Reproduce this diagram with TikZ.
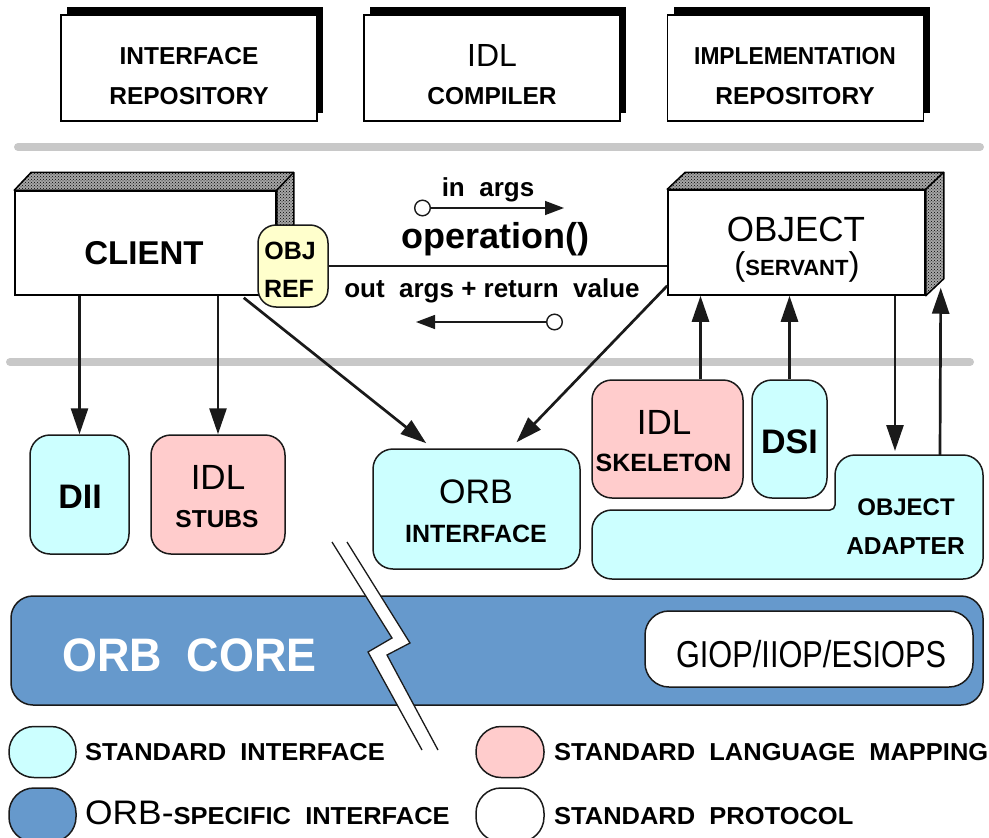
\documentclass[tikz,border=0pt]{standalone}
\usepackage{graphicx}
\usepackage{fontspec}
\setmainfont{Liberation Sans}
\usetikzlibrary{arrows.meta,patterns,shadows,calc}
\definecolor{stdcyan}{HTML}{CCFFFF}
\definecolor{stdpink}{HTML}{FFCCCC}
\definecolor{orbblue}{HTML}{6699CC}
\definecolor{refyellow}{HTML}{FFFFCC}
\definecolor{sepgray}{HTML}{C8C8C8}
\definecolor{edgegray}{HTML}{1A1A1A}
\newcommand{\SetFz}[1]{\fontsize{#1pt}{#1pt}\selectfont}
\newcommand{\LgWide}[1]{\scalebox{1.04}[1]{#1}}
\begin{document}
\begin{tikzpicture}[x=1pt,y=-1pt,
  topbox/.style={draw=black, line width=1.3pt, fill=white, minimum width=256pt, minimum height=106pt, inner sep=0pt,
     general shadow={fill=black, shadow xshift=6pt, shadow yshift=8pt}},
  frontbox/.style={draw=black, line width=1.5pt, fill=white, inner sep=0pt},
  face/.style={fill=black!35, draw=black, line width=1.5pt, line join=round, postaction={pattern=crosshatch dots, pattern color=black}},
  card/.style={draw=edgegray, line width=1.5pt, rounded corners=20pt, inner sep=0pt},
  txt/.style={inner sep=0pt, anchor=base},
  arr/.style={line width=2.7pt, edgegray, -{Triangle[length=26pt,width=17pt]}},
  sarr/.style={line width=1.4pt, edgegray, {Circle[length=17pt,fill=white]}-{Triangle[length=19pt,width=14pt]}},
  sep/.style={line width=8pt, line cap=round, sepgray},
]
\useasboundingbox (0,0) rectangle (989,838);
\clip (0,0) rectangle (989,838);

% separators
\draw[sep] (18,147) -- (980,147);
\draw[sep] (10,362) -- (970,362);

% top row
\node[topbox] (ir) at (189,68) {};
\node[topbox] (idlc) at (492,68) {};
\node[topbox] (impl) at (795.5,68) {};
\node[txt,font=\bfseries\SetFz{24.5}] (irt1) at (189,64) {INTERFACE};
\node[txt,font=\bfseries\SetFz{24.5}] (irt2) at (189,104) {REPOSITORY};
\node[txt,font=\SetFz{32}] (ict1) at (492,66) {IDL};
\node[txt,font=\bfseries\SetFz{24.5}] (ict2) at (492,104) {COMPILER};
\node[txt,font=\bfseries\SetFz{24.5}] (imt1) at (795,64) {\scalebox{0.93}[1]{IMPLEMENTATION}};
\node[txt,font=\bfseries\SetFz{24.5}] (imt2) at (795,104) {REPOSITORY};

% client
\node[frontbox, minimum width=261pt, minimum height=104pt] (cl) at (145.5,243) {};
\path[face] (cl.north west) -- ++(17,-18) -- ($(cl.north east)+(17,-18)$) -- ($(cl.south east)+(17,-18)$)
   -- (cl.south east) -- (cl.north east) -- cycle;
\draw[line width=1.5pt] (cl.north east) -- ++(17,-18);
\node[txt,font=\bfseries\SetFz{33}] (clt) at (144,264) {CLIENT};

% object
\node[frontbox, minimum width=257pt, minimum height=105pt] (obj) at (796.5,242.5) {};
\path[face] (obj.north west) -- ++(18,-17) -- ($(obj.north east)+(18,-17)$) -- ($(obj.south east)+(18,-17)$)
   -- (obj.south east) -- (obj.north east) -- cycle;
\draw[line width=1.5pt] (obj.north east) -- ++(18,-17);
\node[txt,font=\SetFz{35}] (objt1) at (796,241) {OBJECT};
\node[txt] (objt2) at (797,275) {{\SetFz{33}(}{\bfseries\SetFz{22}SERVANT}{\SetFz{33})}};

% object reference
\node[card, fill=refyellow, rounded corners=18pt, minimum width=70pt, minimum height=82pt] (ref) at (293,266) {};
\node[txt,font=\bfseries\SetFz{25}] (reft1) at (290,259) {OBJ};
\node[txt,font=\bfseries\SetFz{25}] (reft2) at (289,297) {REF};

% operation
\draw[line width=1.5pt, edgegray] (ref.east) -- (ref.east -| obj.west);
\node[txt,font=\bfseries\SetFz{26}] (inargs) at (488,196) {in\ \ args};
\coordinate (ia1) at (414,208);
\coordinate (ia2) at (564,208);
\draw[sarr] (ia1) -- (ia2);
\node[txt,font=\bfseries\SetFz{36}] (op) at (495,248) {operation()};
\node[txt,font=\bfseries\SetFz{26}] (outargs) at (492,297) {out\ \ args + return\ \ value};
\coordinate (oa1) at (563,322);
\coordinate (oa2) at (416,322);
\draw[sarr] (oa1) -- (oa2);

% second row
\node[card, fill=stdcyan, minimum width=99pt, minimum height=119pt] (dii) at (79.5,494.5) {};
\node[card, fill=stdpink, minimum width=134pt, minimum height=119pt] (stubs) at (218,494.5) {};
\node[card, fill=stdcyan, minimum width=207pt, minimum height=120pt] (orbi) at (476.5,509) {};
\node[card, fill=stdpink, minimum width=151pt, minimum height=118pt] (skel) at (667.5,439) {};
\node[card, fill=stdcyan, minimum width=75pt, minimum height=118pt] (dsi) at (789.5,439) {};
\node[txt,font=\bfseries\SetFz{34}] (diit) at (80,508) {DII};
\node[txt,font=\SetFz{35}] (stubt1) at (218,489.5) {IDL};
\node[txt,font=\bfseries\SetFz{24.5}] (stubt2) at (217,527.5) {STUBS};
\node[txt,font=\SetFz{34}] (orbit1) at (476,503) {ORB};
\node[txt,font=\bfseries\SetFz{25}] (orbit2) at (476,542.5) {INTERFACE};
\node[txt,font=\SetFz{35}] (skelt1) at (664,434) {IDL};
\node[txt,font=\bfseries\SetFz{25}] (skelt2) at (663.5,471.5) {SKELETON};
\node[txt,font=\bfseries\SetFz{34}] (dsit) at (789.5,453) {DSI};

% object adapter (L-shape)
\path[draw=edgegray, line width=1.5pt, fill=stdcyan]
  (835,505) -- (835,475) arc (180:270:20) -- (963,455) arc (270:360:20) -- (983,559) arc (0:90:20)
  -- (612,579) arc (90:180:20) -- (592,530) arc (180:270:20) -- (830,510) arc (90:0:5) -- cycle;
\node[txt,font=\bfseries\SetFz{24}] (oat1) at (906,515) {OBJECT};
\node[txt,font=\bfseries\SetFz{24.5}] (oat2) at (905.5,554) {ADAPTER};
\coordinate (oaIn) at (895,451);
\coordinate (oaOut) at (940,455);

% arrows
\draw[arr] (cl.south -| dii) -- (dii.north);
\draw[arr] (cl.south -| stubs) -- (stubs.north);
\coordinate (clDiag) at ($(cl.south east)+(-33,2)$);
\coordinate (orbiL) at ($(orbi.north west)+(54,-5)$);
\draw[arr] (clDiag) -- (orbiL);
\coordinate (objDiag) at ($(obj.south west)+(0,-10)$);
\coordinate (orbiR) at ($(orbi.north)+(40,-6)$);
\draw[arr] (objDiag) -- (orbiR);
\coordinate (skA) at ($(skel.north)+(33,0)$);
\draw[arr] (skA) -- (skA |- obj.south);
\draw[arr] (dsi.north) -- (dsi.north |- obj.south);
\draw[arr] (oaIn |- obj.south) -- (oaIn);
\coordinate (objRF) at ($(obj.south east)+(15,-8)$);
\draw[arr] (oaOut) -- (objRF);

% ORB core
\node[card, fill=orbblue, rounded corners=22pt, minimum width=972pt, minimum height=109pt] (core) at (497,650.5) {};
\node[txt, anchor=base west, font=\bfseries\SetFz{47}, text=white] (coret) at (62,671) {\scalebox{0.955}[1]{ORB\ \ CORE}};
\node[card, fill=white, rounded corners=24pt, minimum width=328pt, minimum height=76pt] (giop) at (809,649) {};
\node[txt,font=\SetFz{37.5}] (giopt) at (811,667) {\scalebox{0.82}[1]{GIOP/IIOP/ESIOPS}};

% break mark
\fill[white] (332,542) -- (392,638) -- (368,652) -- (422,750) -- (438,750) -- (387,655) -- (410,643) -- (347,542) -- cycle;
\draw[line width=1.3pt, edgegray, line join=miter] (332,542) -- (392,638) -- (368,652) -- (422,750);
\draw[line width=1.3pt, edgegray, line join=miter] (347,542) -- (410,643) -- (387,655) -- (438,750);

% legend
\node[card, fill=stdcyan, rounded corners=25pt, minimum width=67pt, minimum height=51pt] (lgcyan) at (42.5,752) {};
\node[card, fill=orbblue, rounded corners=25pt, minimum width=67pt, minimum height=54pt] (lgblue) at (42.5,815) {};
\node[card, fill=stdpink, rounded corners=25pt, minimum width=68pt, minimum height=51pt] (lgpink) at (510,752) {};
\node[card, fill=white, rounded corners=25pt, minimum width=68pt, minimum height=54pt] (lgwhite) at (510,815) {};
\node[txt, anchor=base west, font=\bfseries\SetFz{24.5}] (lgt1) at (85,760.5) {\LgWide{STANDARD\ \ INTERFACE}};
\node[txt, anchor=base west] (lgt2) at (85,824) {\LgWide{{\SetFz{34}ORB-}{\bfseries\SetFz{24.5}SPECIFIC\ \ INTERFACE}}};
\node[txt, anchor=base west, font=\bfseries\SetFz{24.5}] (lgt3) at (554,760.5) {\LgWide{STANDARD\ \ LANGUAGE\ \ MAPPING}};
\node[txt, anchor=base west, font=\bfseries\SetFz{24.5}] (lgt4) at (554,824) {\LgWide{STANDARD\ \ PROTOCOL}};
\end{tikzpicture}
\end{document}
